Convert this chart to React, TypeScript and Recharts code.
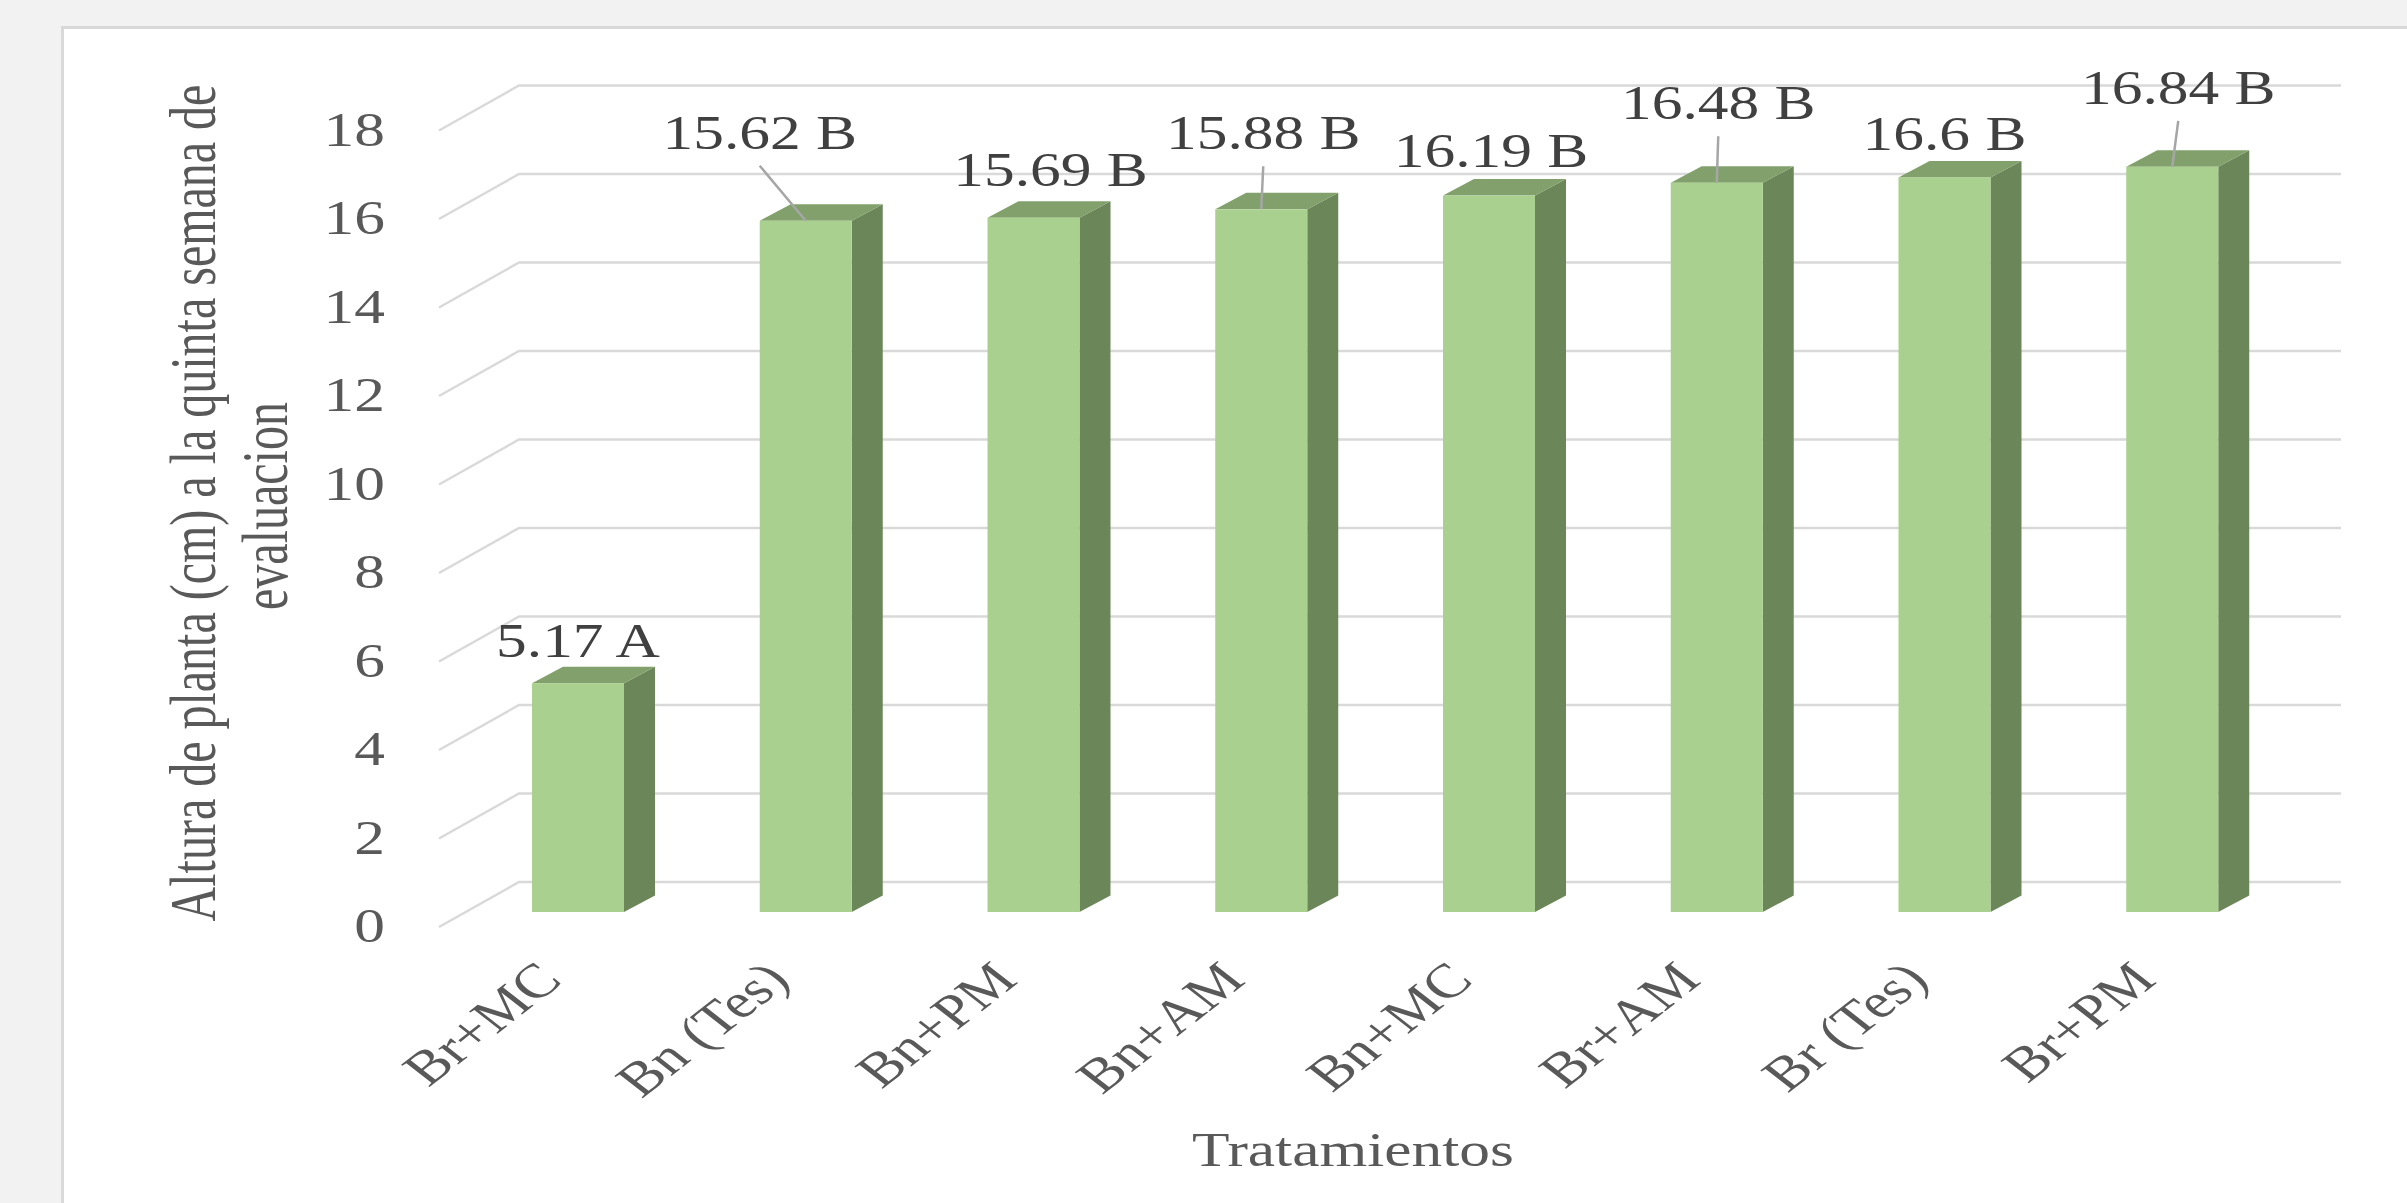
import React from "react";
import { BarChart, Bar, XAxis, YAxis, CartesianGrid, LabelList } from "recharts";

// ---- data ----
const CATEGORIES = ["Br+MC", "Bn (Tes)", "Bn+PM", "Bn+AM", "Bn+MC", "Br+AM", "Br (Tes)", "Br+PM"];
const VALUES = [5.17, 15.62, 15.69, 15.88, 16.19, 16.48, 16.6, 16.84];
const GROUPS = ["A", "B", "B", "B", "B", "B", "B", "B"];
const Y_TICKS = [0, 2, 4, 6, 8, 10, 12, 14, 16, 18];
const Y_TITLE_LINES = ["Altura de planta (cm) a la quinta semana de", "evaluacion"];
const X_TITLE = "Tratamientos";

// ---- layout ----
const W = 2407;
const H = 1203;
const PLOT_LEFT = 464;
const PLOT_RIGHT = 2286;
const PLOT_TOP = 115.5;
const PLOT_BOTTOM = 912;
const Y_AXIS_W = 80;
const X_AXIS_H = 60;
const DEPTH_X = 31;
const DEPTH_Y = 16.5;
const WALL_DX = 55;
const WALL_DY = 30;
const FLOOR_DX = 25;
const FLOOR_DY = 15;
const SX = 1.28;
const FS = 48;
const FONT = "'Liberation Serif', 'Times New Roman', serif";
// manual label placement (dx, dy from bar top centre)
const LABEL_OFFSETS: [number, number][] = [
  [0, -42], [-46, -88], [17, -48], [2, -76], [2, -45], [1.5, -79.5], [0, -44], [6, -79],
];

const data = CATEGORIES.map((name, i) => ({ name, value: VALUES[i], group: GROUPS[i] }));

const GridLine = (props: any) => {
  const { x1, x2, y1 } = props;
  const y = Number(y1);
  const pts = `${x1 - FLOOR_DX},${y + FLOOR_DY} ${x1 + WALL_DX},${y - WALL_DY} ${x2 + WALL_DX},${y - WALL_DY}`;
  return <polyline key={props.key ?? `gl-${y}`} points={pts} fill="none" stroke="#d9d9d9" strokeWidth={2.5} />;
};

const Bar3D = (props: any) => {
  const { x, y, width, height } = props;
  const side = `${x + width},${y} ${x + width + DEPTH_X},${y - DEPTH_Y} ${x + width + DEPTH_X},${y + height - DEPTH_Y} ${x + width},${y + height}`;
  const top = `${x},${y} ${x + DEPTH_X},${y - DEPTH_Y} ${x + width + DEPTH_X},${y - DEPTH_Y} ${x + width},${y}`;
  return (
    <g>
      <polygon points={side} fill="#6b8759" />
      <polygon points={top} fill="#82a06b" />
      <rect x={x} y={y} width={width} height={height} fill="#a9d08e" />
    </g>
  );
};

const renderLabel = (props: any) => {
  const { x, y, width, index, value } = props;
  const cx = Number(x) + Number(width) / 2;
  const ty = Number(y);
  const [dx, dy] = LABEL_OFFSETS[index] || [0, -44];
  const lx = cx + dx;
  const ly = ty + dy;
  return (
    <g key={`lbl-${index}`}>
      {dy < -60 && (
        <line x1={lx} y1={ly + 33} x2={cx} y2={ty} stroke="#a6a6a6" strokeWidth={2.5} />
      )}
      <g transform={`translate(${lx},${ly}) scale(${SX},1)`}>
        <text x={0} y={0} textAnchor="middle" dominantBaseline="central" fontSize={FS} fill="#404040" fontFamily={FONT}>
          {`${value} ${GROUPS[index]}`}
        </text>
      </g>
    </g>
  );
};

const XTick = (props: any) => {
  const { x, payload } = props;
  return (
    <g transform={`translate(${Number(x) - 14},${PLOT_BOTTOM + 70}) scale(${SX},1) rotate(-45)`}>
      <text x={0} y={0} textAnchor="end" fontSize={FS} fill="#595959" fontFamily={FONT}>
        {payload.value}
      </text>
    </g>
  );
};

const YTick = (props: any) => {
  const { y, payload } = props;
  return (
    <g transform={`translate(${PLOT_LEFT - 79},${Number(y) + 14}) scale(${SX},1)`}>
      <text x={0} y={0} textAnchor="end" dominantBaseline="central" fontSize={FS} fill="#595959" fontFamily={FONT}>
        {payload.value}
      </text>
    </g>
  );
};

const YTitle = () => (
  <g transform={`translate(215,503) scale(1.36,1) rotate(-90)`}>
    <text x={0} y={0} textAnchor="middle" fontSize={48} fill="#595959" fontFamily={FONT}>
      {Y_TITLE_LINES[0]}
    </text>
    <text x={-3} y={53} textAnchor="middle" fontSize={48} fill="#595959" fontFamily={FONT}>
      {Y_TITLE_LINES[1]}
    </text>
  </g>
);

const XTitle = () => (
  <g transform={`translate(1353,1150) scale(${SX},1)`}>
    <text x={0} y={0} textAnchor="middle" dominantBaseline="central" fontSize={FS} fill="#595959" fontFamily={FONT}>
      {X_TITLE}
    </text>
  </g>
);

export default function App() {
  return (
    <div style={{ position: "absolute", left: 0, top: 0, width: W, height: H, background: "#f2f2f2", overflow: "hidden" }}>
      <div
        style={{
          position: "absolute",
          left: 61,
          top: 26,
          width: 2500,
          height: 1400,
          background: "#ffffff",
          border: "3px solid #d9d9d9",
          boxSizing: "border-box",
        }}
      />
      <div style={{ position: "absolute", left: 0, top: 0 }}>
        <BarChart
          width={W}
          height={H}
          data={data}
          margin={{ top: PLOT_TOP, right: W - PLOT_RIGHT, bottom: H - PLOT_BOTTOM - X_AXIS_H, left: PLOT_LEFT - Y_AXIS_W }}
        >
          <CartesianGrid vertical={false} horizontal={GridLine} />
          <XAxis
            dataKey="name"
            height={X_AXIS_H}
            interval={0}
            tickLine={false}
            axisLine={false}
            tick={XTick}
            label={{ content: () => <XTitle /> }}
          />
          <YAxis
            width={Y_AXIS_W}
            domain={[0, 18]}
            ticks={Y_TICKS}
            interval={0}
            tickLine={false}
            axisLine={false}
            tick={YTick}
            label={{ content: () => <YTitle /> }}
          />
          <Bar dataKey="value" barSize={92} shape={Bar3D} isAnimationActive={false}>
            <LabelList dataKey="value" content={renderLabel} />
          </Bar>
        </BarChart>
      </div>
    </div>
  );
}
